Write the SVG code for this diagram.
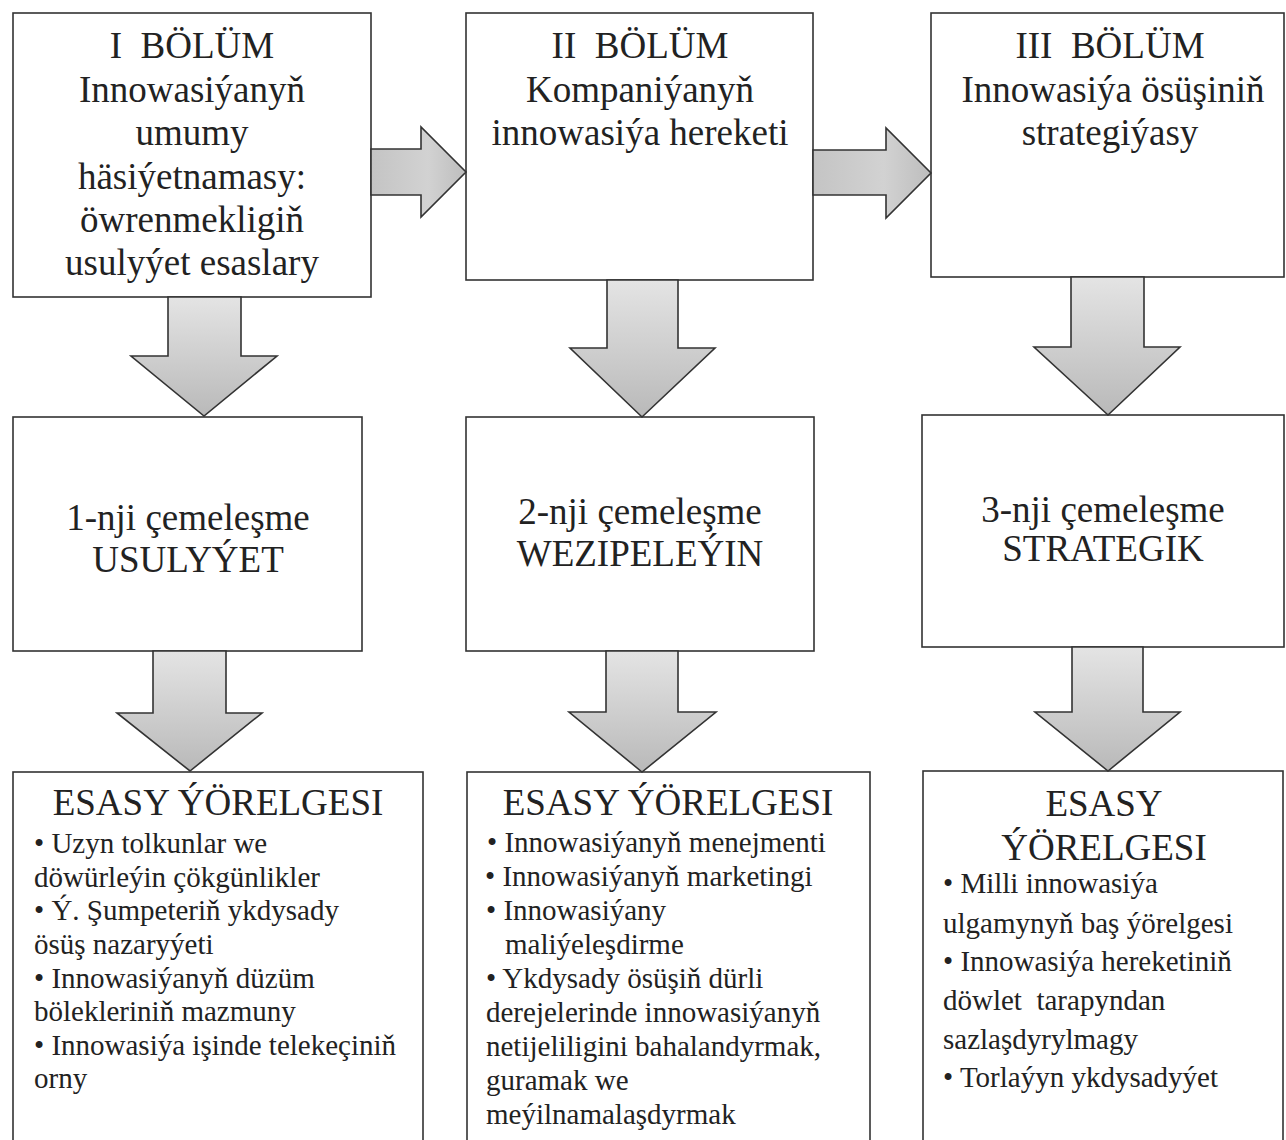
<svg xmlns="http://www.w3.org/2000/svg" width="1286" height="1140" viewBox="0 0 1286 1140">
  <defs>
    <linearGradient id="gradDown" x1="0" y1="0" x2="0" y2="1">
      <stop offset="0" stop-color="#e4e4e4"/>
      <stop offset="1" stop-color="#b9b9b9"/>
    </linearGradient>
    <linearGradient id="gradRight" x1="0" y1="0" x2="1" y2="0">
      <stop offset="0" stop-color="#c4c4c4"/>
      <stop offset="0.6" stop-color="#d2d2d2"/>
      <stop offset="1" stop-color="#bdbdbd"/>
    </linearGradient>
  </defs>
  <style>
    .box { fill: #ffffff; stroke: #333333; stroke-width: 1.6; }
    .arrow-down { fill: url(#gradDown); stroke: #333333; stroke-width: 1.6; stroke-linejoin: miter; }
    .arrow-right { fill: url(#gradRight); stroke: #333333; stroke-width: 1.6; stroke-linejoin: miter; }
    .t { font-family: "Liberation Serif", "Times New Roman", serif; fill: #222222; }
    .big { font-size: 37px; text-anchor: middle; }
    .small { font-size: 29px; }
  </style>

  <rect width="1286" height="1140" fill="#ffffff"/>

  <!-- Top row: chapters -->
  <g id="chapter1">
    <rect class="box" x="13" y="13" width="358" height="284"/>
    <text class="t big" xml:space="preserve" x="192" y="58">I  BÖLÜM</text>
    <text class="t big" x="192" y="102">Innowasiýanyň</text>
    <text class="t big" x="192" y="145">umumy</text>
    <text class="t big" x="192" y="189">häsiýetnamasy:</text>
    <text class="t big" x="192" y="232">öwrenmekligiň</text>
    <text class="t big" x="192" y="275">usulyýet esaslary</text>
  </g>
  <g id="chapter2">
    <rect class="box" x="466" y="13" width="347" height="267"/>
    <text class="t big" xml:space="preserve" x="640" y="58">II  BÖLÜM</text>
    <text class="t big" x="640" y="102">Kompaniýanyň</text>
    <text class="t big" x="640" y="145">innowasiýa hereketi</text>
  </g>
  <g id="chapter3">
    <rect class="box" x="931" y="13" width="353" height="264"/>
    <text class="t big" xml:space="preserve" x="1110" y="58">III  BÖLÜM</text>
    <text class="t big" x="1113" y="102">Innowasiýa ösüşiniň</text>
    <text class="t big" x="1110" y="145">strategiýasy</text>
  </g>

  <!-- Middle row: approaches -->
  <g id="approach1">
    <rect class="box" x="13" y="417" width="349" height="234"/>
    <text class="t big" x="188" y="530">1-nji çemeleşme</text>
    <text class="t big" x="188" y="572">USULYÝET</text>
  </g>
  <g id="approach2">
    <rect class="box" x="466" y="417" width="348" height="234"/>
    <text class="t big" x="640" y="524">2-nji çemeleşme</text>
    <text class="t big" x="640" y="566">WEZIPELEÝIN</text>
  </g>
  <g id="approach3">
    <rect class="box" x="922" y="415" width="362" height="232"/>
    <text class="t big" x="1103" y="522">3-nji çemeleşme</text>
    <text class="t big" x="1103" y="561">STRATEGIK</text>
  </g>

  <!-- Bottom row: main principles -->
  <g id="principles1">
    <rect class="box" x="13" y="772" width="410" height="380"/>
    <text class="t big" x="218" y="815">ESASY ÝÖRELGESI</text>
    <text class="t small" x="34" y="853">• Uzyn tolkunlar we</text>
    <text class="t small" x="34" y="887">döwürleýin çökgünlikler</text>
    <text class="t small" x="34" y="920">• Ý. Şumpeteriň ykdysady</text>
    <text class="t small" x="34" y="954">ösüş nazaryýeti</text>
    <text class="t small" x="34" y="988">• Innowasiýanyň düzüm</text>
    <text class="t small" x="34" y="1021">bölekleriniň mazmuny</text>
    <text class="t small" x="34" y="1055">• Innowasiýa işinde telekeçiniň</text>
    <text class="t small" x="34" y="1088">orny</text>
  </g>
  <g id="principles2">
    <rect class="box" x="467" y="772" width="403" height="380"/>
    <text class="t big" x="668" y="815">ESASY ÝÖRELGESI</text>
    <text class="t small" x="487" y="852">• Innowasiýanyň menejmenti</text>
    <text class="t small" x="485" y="886">• Innowasiýanyň marketingi</text>
    <text class="t small" x="486" y="920">• Innowasiýany</text>
    <text class="t small" x="505" y="954">maliýeleşdirme</text>
    <text class="t small" x="486" y="988">• Ykdysady ösüşiň dürli</text>
    <text class="t small" x="486" y="1022">derejelerinde innowasiýanyň</text>
    <text class="t small" x="486" y="1056">netijeliligini bahalandyrmak,</text>
    <text class="t small" x="486" y="1090">guramak we</text>
    <text class="t small" x="486" y="1124">meýilnamalaşdyrmak</text>
  </g>
  <g id="principles3">
    <rect class="box" x="923" y="771" width="360" height="381"/>
    <text class="t big" x="1104" y="816">ESASY</text>
    <text class="t big" x="1104" y="860">ÝÖRELGESI</text>
    <text class="t small" x="943" y="893">• Milli innowasiýa</text>
    <text class="t small" x="943" y="933">ulgamynyň baş ýörelgesi</text>
    <text class="t small" x="943" y="971">• Innowasiýa hereketiniň</text>
    <text class="t small" xml:space="preserve" x="943" y="1010">döwlet  tarapyndan</text>
    <text class="t small" x="943" y="1049">sazlaşdyrylmagy</text>
    <text class="t small" x="943" y="1087">• Torlaýyn ykdysadyýet</text>
  </g>

  <!-- Block arrows between the boxes -->
  <g id="connectors">
    <polygon class="arrow-right" points="371,149 421,149 421,127 466,172 421,217 421,195 371,195"/>
    <polygon class="arrow-right" points="813,150 886,150 886,128 931,173 886,218 886,195 813,195"/>

    <polygon class="arrow-down" points="168,297 241,297 241,356 277,356 204,416 131,356 168,356"/>
    <polygon class="arrow-down" points="607,280 678,280 678,348 715,348 642,417 570,348 607,348"/>
    <polygon class="arrow-down" points="1071,277 1144,277 1144,347 1180,347 1108,415 1034,347 1071,347"/>

    <polygon class="arrow-down" points="153,651 226,651 226,713 262,713 190,771 117,713 153,713"/>
    <polygon class="arrow-down" points="606,651 678,651 678,712 716,712 642,772 569,712 606,712"/>
    <polygon class="arrow-down" points="1072,647 1143,647 1143,712 1180,712 1108,771 1035,712 1072,712"/>
  </g>
</svg>
